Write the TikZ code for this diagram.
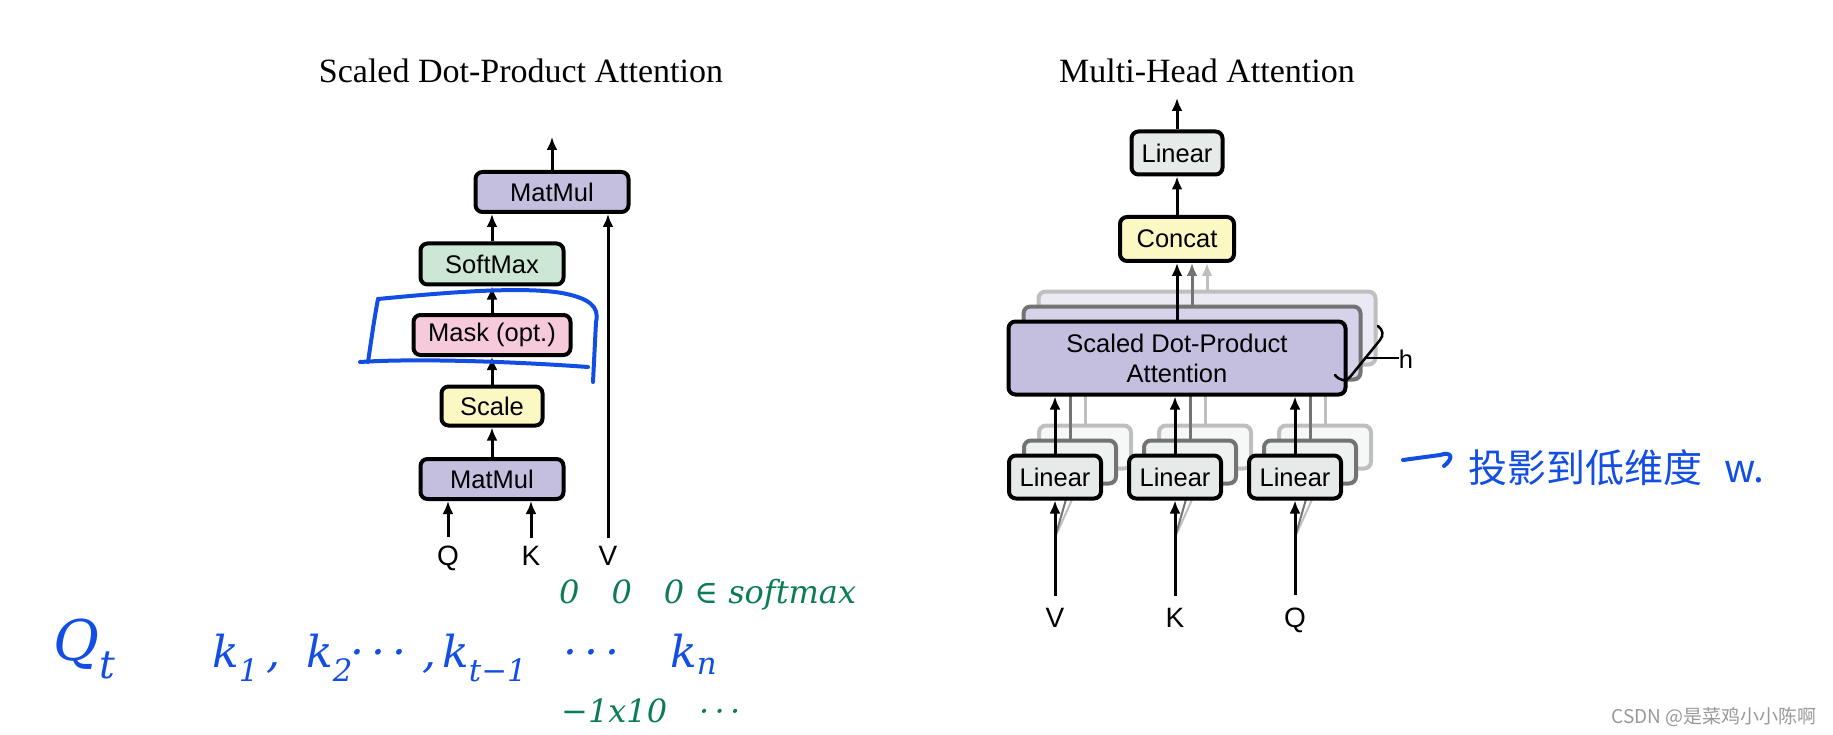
\documentclass[tikz,border=0pt]{standalone}
\usepackage{fontspec}
\setmainfont{Liberation Serif}
\setsansfont{Liberation Sans}
\newfontfamily\cjk{Noto Sans CJK SC}
\newfontfamily\handfont{DejaVu Serif}
\usetikzlibrary{calc,arrows.meta}

\definecolor{mulcol}{RGB}{196,191,223}
\definecolor{softcol}{RGB}{204,231,212}
\definecolor{maskcol}{RGB}{246,202,219}
\definecolor{scalecol}{RGB}{252,248,196}
\definecolor{lincol}{RGB}{230,235,233}
\definecolor{penblue}{RGB}{18,78,228}
\definecolor{pengreen}{RGB}{12,124,82}

\begin{document}
\begin{tikzpicture}[x=1pt,y=-1pt]
\tikzstyle{box}=[draw=black,line width=4pt,rounded corners=7pt,inner sep=0pt,align=center,font=\sffamily\fontsize{25.5}{30}\selectfont]
\tikzstyle{back1}=[box,draw=black!55]
\tikzstyle{back2}=[box,draw=black!25]
\tikzstyle{flow}=[line width=3pt,-{Latex[length=13pt,width=11pt]}]
\tikzstyle{lbl}=[inner sep=0pt,anchor=base,font=\sffamily\fontsize{28}{30}\selectfont]
\tikzstyle{title}=[inner sep=0pt,anchor=base,font=\fontsize{34}{36}\selectfont]
\tikzstyle{pen}=[penblue,line width=4pt,line cap=round,line join=round]
\tikzstyle{hand}=[penblue,inner sep=0pt,anchor=base west,font=\handfont\itshape\fontsize{44}{48}\selectfont]
\tikzstyle{handg}=[pengreen,inner sep=0pt,anchor=base west,font=\handfont\itshape\fontsize{32}{34}\selectfont]
\useasboundingbox (0,0) rectangle (1833,735);

% scaled dot-product attention
\node[title] (t1) at (521,83) {Scaled Dot-Product Attention};
\node[box,fill=mulcol,minimum width=143,minimum height=40] (mm1) at (492,479) {MatMul};
\node[box,fill=scalecol,minimum width=101,minimum height=39] (scale) at (492,406) {Scale};
\node[box,fill=maskcol,minimum width=157,minimum height=40] (mask) at (492,335) {Mask (opt.)};
\node[box,fill=softcol,minimum width=143,minimum height=41] (soft) at (492,264) {SoftMax};
\node[box,fill=mulcol,minimum width=153,minimum height=40] (mm2) at (552,192) {MatMul};
\node[lbl] (q) at (448,565) {Q};
\node[lbl] (k) at (531,565) {K};
\node[lbl] (v) at (608,565) {V};
\coordinate (out1) at (552,137);
\draw[flow] ([yshift=8pt]q.north) -- (q |- mm1.south);
\draw[flow] ([yshift=8pt]k.north) -- (k |- mm1.south);
\draw[flow] (mm1) -- (scale);
\draw[flow] (scale) -- (mask);
\draw[flow] (mask) -- (soft);
\draw[flow] (soft.north) -- (soft.north |- mm2.south);
\draw[flow] ([yshift=8pt]v.north) -- (v |- mm2.south);
\draw[flow] (mm2) -- (out1);

% multi-head attention
\node[title] (t2) at (1207,83) {Multi-Head Attention};
\node[box,fill=lincol,minimum width=91,minimum height=43] (lin3) at (1177,153) {Linear};
\node[box,fill=scalecol,minimum width=114,minimum height=44] (cat) at (1177,239) {Concat};
\node[lbl] (iv) at (1055,627) {V};
\node[lbl] (ik) at (1175,627) {K};
\node[lbl] (iq) at (1295,627) {Q};
\coordinate (out2) at (1177,98);

\foreach \d/\s/\m/\g in {30/back2/35/25,15/back1/70/55} {
  \node[\s,fill=mulcol!\m!white,minimum width=337,minimum height=73] (sdpa\d) at (1177+\d,358-\d) {};
  \draw[flow,black!\g] (sdpa\d.north) -- (sdpa\d.north |- cat.south);
  \foreach \n/\x in {v/1055,k/1175,q/1295} {
    \node[\s,fill=lincol!\m!white,minimum width=92,minimum height=43] (l\n\d) at (\x+\d,477-\d) {};
    \draw[flow,black!\g] (l\n\d) -- (l\n\d |- sdpa\d.south);
    \draw[line width=2pt,black!\g] ([yshift=70pt]i\n.north) -- (l\n\d.south);
  }
}

\node[box,fill=mulcol,minimum width=337,minimum height=73] (sdpa) at (1177,358) {Scaled Dot-Product\\Attention};
\foreach \n/\x in {v/1055,k/1175,q/1295} {
  \node[box,fill=lincol,minimum width=92,minimum height=43] (l\n) at (\x,477) {Linear};
  \draw[flow] (l\n) -- (l\n |- sdpa.south);
  \draw[flow] ([yshift=12pt]i\n.north) -- (l\n);
}
\draw[flow] (sdpa) -- (cat);
\draw[flow] (cat) -- (lin3);
\draw[flow] (lin3) -- (out2);

% h brace
\draw[line width=2.5pt,line cap=round] (1335,375) .. controls (1340,381) and (1346,382) .. (1350,377) -- (1380,340) .. controls (1384,335) and (1383,330) .. (1378,326);
\node[lbl,font=\sffamily\fontsize{25.5}{30}\selectfont] (h) at (1406,368) {h};
\coordinate (htip) at (1366,358);
\draw[line width=2pt] (htip) -- (h.west |- htip);

% notes
\draw[pen] (378,299) .. controls (440,293) and (520,286) .. (562,293) .. controls (588,298) and (600,306) .. (596,322) -- (593,382);
\draw[pen] (378,299) .. controls (374,320) and (371,342) .. (368,362);
\draw[pen] (360,362) .. controls (420,358) and (520,362) .. (588,367);

\node[hand,font=\handfont\itshape\fontsize{56}{60}\selectfont] (qt) at (53,660) {Q\textsubscript{t}};
\foreach \x/\t [count=\i] in {212/{k\textsubscript{1}}, 266/{,}, 306/{k\textsubscript{2}}, 350/{·\,·\,·}, 422/{,}, 442/{k\textsubscript{t−1}}, 563/{·\,·\,·}, 670/{k\textsubscript{n}}}
  \node[hand] (kr\i) at (\x,667) {\t};
\node[handg] (zeros) at (559,603) {0\quad 0\quad 0 ∈ softmax};
\node[handg] (neg) at (561,722) {−1x10\quad ·\,·\,·};

\coordinate (ha) at (1403,460);
\draw[pen] (ha) -- (1440,455) .. controls (1452,451) and (1454,458) .. (1444,466);
\node[hand,font=\cjk\fontsize{39}{40}\selectfont,anchor=west] (proj) at (1468,468) {投影到低维度\hspace{22pt}w.};

\node[inner sep=0pt,anchor=base east,text=black!40,font=\cjk\fontsize{19}{20}\selectfont] (mark) at (1817,723) {CSDN @是菜鸡小小陈啊};
\end{tikzpicture}
\end{document}
